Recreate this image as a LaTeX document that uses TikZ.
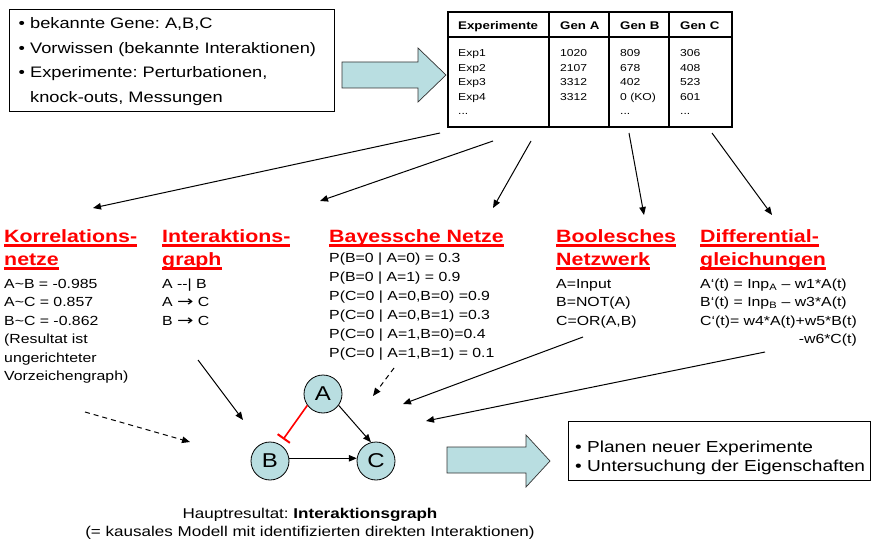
\documentclass[tikz,border=0pt]{standalone}
\usepackage{fontspec}
\setmainfont{Liberation Sans}[FakeStretch=1.2]
\newfontfamily\symf{DejaVu Sans}[FakeStretch=1.35, Scale=1.1]
\usetikzlibrary{arrows.meta}
\definecolor{lb}{RGB}{185,222,225}
\definecolor{hdred}{RGB}{255,0,0}
\newcommand\lst[1]{\begin{tabular}[t]{@{}l@{}}#1\end{tabular}}
\newcommand\hdl[1]{{\setbox0\hbox{#1}\rlap{\rule[-4.7pt]{\wd0}{3pt}}\box0}}
\newcommand\rarr{{\symf →}}
\frenchspacing
\begin{document}
\begin{tikzpicture}[x=1pt,y=-1pt,
  body/.style={inner sep=0pt, anchor=base west, font=\fontsize{13.2}{18.5}\selectfont},
  hd/.style={inner sep=0pt, anchor=base west, text=hdred, font=\fontsize{17.8}{23}\selectfont\bfseries},
  thd/.style={inner sep=0pt, anchor=base west, font=\fontsize{11.1}{14}\selectfont\bfseries},
  tdat/.style={inner sep=0pt, anchor=base west, font=\fontsize{10.1}{14.5}\selectfont},
  arr/.style={-{Triangle[length=8pt,width=6.5pt]}, line width=1pt},
  darr/.style={arr, dash pattern=on 5pt off 4pt},
  bigarrow/.style={fill=lb, draw=black!80, line width=0.7pt},
  gnode/.style={circle, draw, fill=lb, minimum size=38pt, inner sep=0pt, line width=0.8pt, font=\fontsize{20}{24}\selectfont},
  box/.style={draw, line width=0.8pt, inner sep=0pt}
]
\useasboundingbox (0,0) rectangle (871,543);

% top-left box
\node[box, anchor=north west, minimum width=325pt, minimum height=102pt] (known) at (9,9) {};
\node[inner sep=0pt, anchor=base west, font=\fontsize{15.2}{24.5}\selectfont] (knownt) at (18.5,29)
  {\lst{• bekannte Gene: A,B,C\\ • Vorwissen (bekannte Interaktionen)\\ • Experimente: Perturbationen,\\ \phantom{• }knock-outs, Messungen}};

% top big arrow
\draw[bigarrow] (342,62) -- (418,62) -- (418,48) -- (446,75) -- (418,102) -- (418,88) -- (342,88) -- cycle;

% table
\draw[line width=2.5pt] (448,12) rectangle (732,127);
\draw[line width=2pt] (448,37) -- (732,37);
\draw[line width=1.3pt] (549,12) -- (549,127);
\draw[line width=1.3pt] (609,12) -- (609,127);
\draw[line width=1.3pt] (669,12) -- (669,127);
\node[thd] (h0) at (458,30) {Experimente};
\node[thd] (ha) at (560,30) {Gen A};
\node[thd] (hb) at (620,30) {Gen B};
\node[thd] (hc) at (680,30) {Gen C};
\node[tdat] (c0) at (458,57) {\lst{Exp1\\ Exp2\\ Exp3\\ Exp4\\ ...}};
\node[tdat] (ca) at (560,57) {\lst{1020\\ 2107\\ 3312\\ 3312}};
\node[tdat] (cb) at (620,57) {\lst{809\\ 678\\ 402\\ 0 (KO)\\ ...}};
\node[tdat] (cc) at (680,57) {\lst{306\\ 408\\ 523\\ 601\\ ...}};

% arrows from table
\coordinate (t1) at (440,133); \coordinate (e1) at (93,208);
\coordinate (t2) at (493,141); \coordinate (e2) at (320,201);
\coordinate (t3) at (531,141); \coordinate (e3) at (493,208);
\coordinate (t4) at (629,133); \coordinate (e4) at (644,215);
\coordinate (t5) at (712,133); \coordinate (e5) at (772,215);
\draw[arr] (t1) -- (e1);
\draw[arr] (t2) -- (e2);
\draw[arr] (t3) -- (e3);
\draw[arr] (t4) -- (e4);
\draw[arr] (t5) -- (e5);

% headings
\node[hd] (hk) at (4,242) {\lst{\hdl{Korrelations-}\\ \hdl{netze}}};
\node[hd] (hi) at (162,242) {\lst{\hdl{Interaktions-}\\ \hdl{graph}}};
\node[hd] (hy) at (329,242) {\hdl{Bayessche Netze}};
\node[hd] (ho) at (556,242) {\lst{\hdl{Boolesches}\\ \hdl{Netzwerk}}};
\node[hd] (hd) at (700,242) {\lst{\hdl{Differential-}\\ \hdl{gleichungen}}};

% bodies
\node[body] (bk) at (4,288) {\lst{A\textasciitilde B = -0.985\\ A\textasciitilde C = 0.857\\ B\textasciitilde C = -0.862\\ (Resultat ist\\ ungerichteter\\ Vorzeichengraph)}};
\node[body] (bi) at (162,288) {\lst{A -{}-| B\\ A \rarr{} C\\ B \rarr{} C}};
\node[body, font=\fontsize{13.2}{19}\selectfont] (by) at (329,262) {\lst{P(B=0 | A=0) = 0.3\\ P(B=0 | A=1) = 0.9\\ P(C=0 | A=0,B=0) =0.9\\ P(C=0 | A=0,B=1) =0.3\\ P(C=0 | A=1,B=0)=0.4\\ P(C=0 | A=1,B=1) = 0.1}};
\node[body] (bo) at (556,288) {\lst{A=Input\\ B=NOT(A)\\ C=OR(A,B)}};
\node[body] (bd) at (700,288) {\lst{A‘(t) = Inp\textsubscript{A} – w1*A(t)\\ B‘(t) = Inp\textsubscript{B} – w3*A(t)\\ C‘(t)= w4*A(t)+w5*B(t)\\ \multicolumn{1}{@{}r@{}}{-w6*C(t)}}};

% graph
\node[gnode] (A) at (323,394) {A};
\node[gnode] (B) at (270,461) {B};
\node[gnode] (C) at (376,461) {C};
\draw[hdred, line width=1.6pt, -{Bar[width=15pt,line width=2pt]}, shorten >=6pt] (A.216) -- (B.60);
\draw[arr] (A.-36) -- (C.105);
\draw[arr] (B.8) -- (C.172);

% arrows into graph
\coordinate (s1) at (198,360); \coordinate (f1) at (243,420);
\coordinate (s2) at (85,412);  \coordinate (f2) at (190,442);
\coordinate (s3) at (394,368); \coordinate (f3) at (373,396);
\coordinate (s4) at (583,337); \coordinate (f4) at (403,404);
\coordinate (s5) at (765,352); \coordinate (f5) at (426,421);
\draw[arr] (s1) -- (f1);
\draw[darr] (s2) -- (f2);
\draw[darr] (s3) -- (f3);
\draw[arr] (s4) -- (f4);
\draw[arr] (s5) -- (f5);

% bottom big arrow
\draw[bigarrow] (447,447) -- (526,447) -- (526,435) -- (550,461) -- (526,487) -- (526,473) -- (447,473) -- cycle;

% bottom-right box
\node[box, anchor=north west, minimum width=302pt, minimum height=59pt] (next) at (568,421) {};
\node[inner sep=0pt, anchor=base west, font=\fontsize{15.9}{19}\selectfont] (nextt) at (575,452)
  {\lst{• Planen neuer Experimente\\ • Untersuchung der Eigenschaften}};

% bottom caption
\node[inner sep=0pt, anchor=base, font=\fontsize{14.2}{18}\selectfont] (cap) at (310,518)
  {\begin{tabular}[t]{@{}c@{}}Hauptresultat: \textbf{Interaktionsgraph}\\ (= kausales Modell mit identifizierten direkten Interaktionen)\end{tabular}};
\end{tikzpicture}
\end{document}
